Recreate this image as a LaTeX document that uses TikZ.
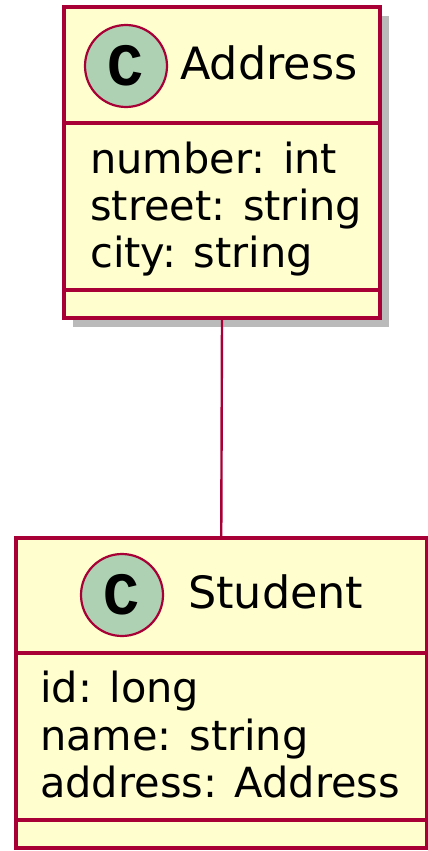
\documentclass[tikz,border=0pt]{standalone}
\usepackage{fontspec}
\setmainfont{DejaVu Sans}
\newfontfamily\spotfont{Liberation Mono}
\usepackage{xcolor}
\usepackage{tikz}
\usetikzlibrary{shadows}

\definecolor{classfill}{HTML}{FEFECE}
\definecolor{classline}{HTML}{A80036}
\definecolor{spotfill}{HTML}{ADD1B2}

\tikzset{
  classbox/.style={rectangle, draw=classline, fill=classfill, line width=3.4pt, inner sep=0pt},
  sepline/.style={draw=classline, line width=3.4pt},
  spot/.style={circle, draw=classline, fill=spotfill, line width=2.2pt, minimum size=82pt, inner sep=0pt,
    font=\spotfont\bfseries\fontsize{60}{60}\selectfont},
  classname/.style={anchor=base west, inner sep=0pt, font=\fontsize{44.5}{44.5}\selectfont},
  field/.style={anchor=base west, inner sep=0pt, font=\fontsize{41.5}{41.5}\selectfont},
  assoc/.style={draw=classline, line width=2.4pt}
}

\begin{document}
\begin{tikzpicture}[x=1pt, y=-1pt]
  \useasboundingbox (0,0) rectangle (428,851);
  % Address class
  \node[classbox, drop shadow={shadow xshift=9pt, shadow yshift=-9pt, opacity=0.45, fill=black!60},
        minimum width=316pt, minimum height=311pt] (address) at (222,162.5) {};
  \draw[sepline] (address.west |- 0,123) -- (address.east |- 0,123);
  \draw[sepline] (address.west |- 0,290) -- (address.east |- 0,290);
  \node[spot] (addressspot) at (126,66) {C};
  \node[classname] (addressname) at (180,80) {Address};
  \node[field] (number) at (90,173) {number: int};
  \node[field] (street) at (90,220) {street: string};
  \node[field] (city) at (90,267) {city: string};
  % Student class
  \node[classbox, minimum width=410.5pt, minimum height=310pt] (student) at (221.25,693) {};
  \draw[sepline] (student.west |- 0,653) -- (student.east |- 0,653);
  \draw[sepline] (student.west |- 0,820) -- (student.east |- 0,820);
  \node[spot] (studentspot) at (122,595) {C};
  \node[classname] (studentname) at (188,608) {Student};
  \node[field] (id) at (40,702) {id: long};
  \node[field] (name) at (40,750) {name: string};
  \node[field] (addr) at (40,797) {address: Address};
  % association
  \draw[assoc] (address.south) -- (student.north);
\end{tikzpicture}
\end{document}
